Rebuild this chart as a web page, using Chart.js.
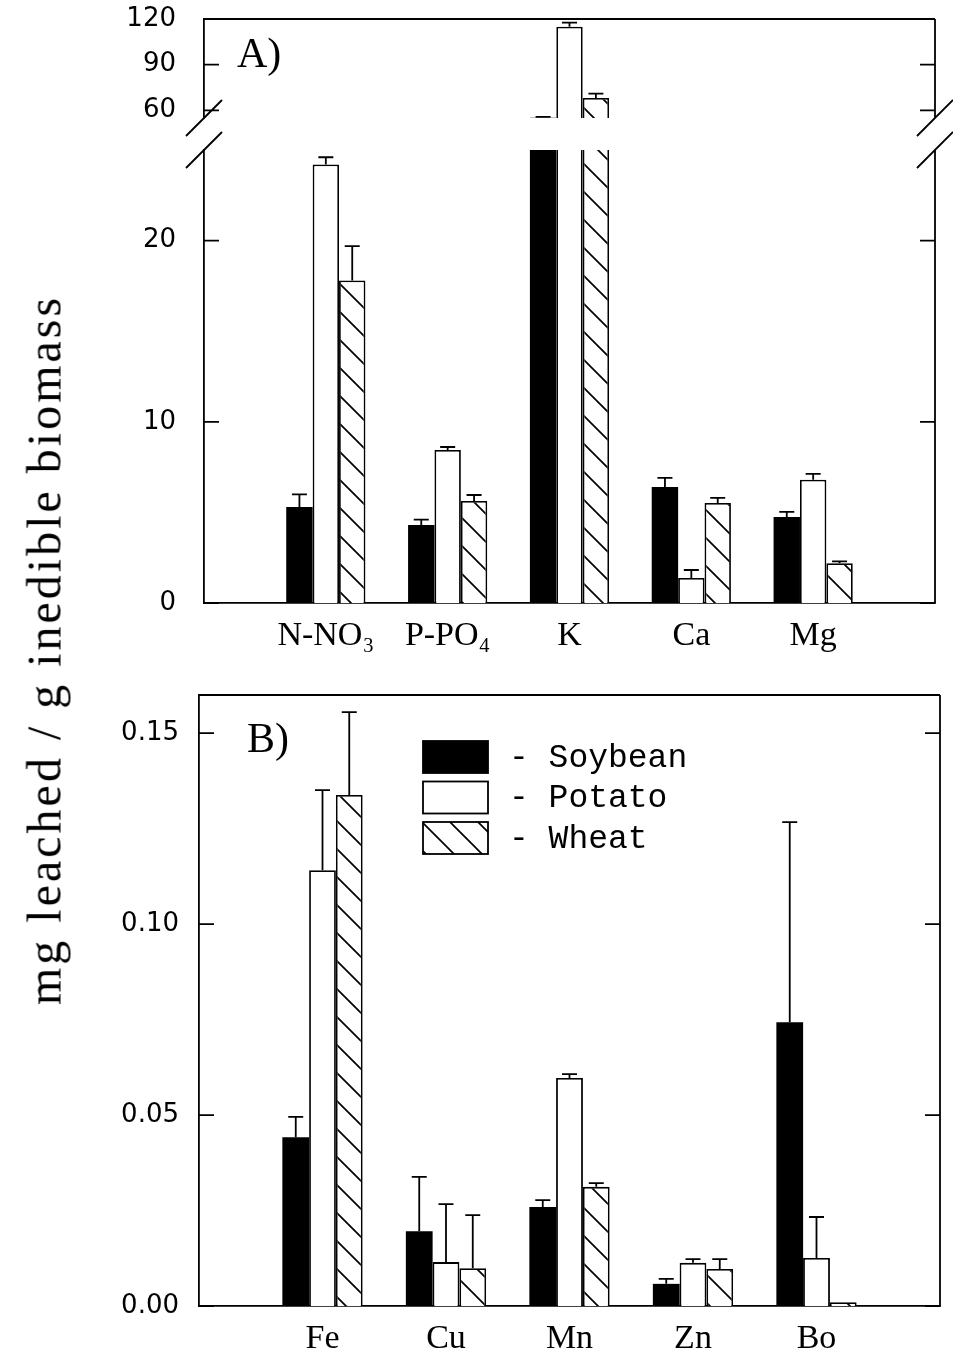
<!DOCTYPE html>
<html>
<head>
<meta charset="utf-8">
<script src="https://cdn.jsdelivr.net/npm/chart.js@4/dist/chart.umd.min.js"></script>
<style>
  body { margin: 0; background: #fff; }
  .panel { position: absolute; left: 0; width: 953px; height: 680px; }
  #ytitle {
    position: absolute; left: 44px; top: 650px;
    transform: translate(-50%, -50%) rotate(-90deg);
    font: 48px "Liberation Serif", serif; letter-spacing: 3px;
    white-space: nowrap; color: #000;
  }
</style>
</head>
<body>
<div class="panel" style="top:0"><canvas id="macro"></canvas></div>
<div class="panel" style="top:680px"><canvas id="micro"></canvas></div>
<div id="ytitle">mg leached / g inedible biomass</div>
<script>
// panel A: macronutrients (empty slots at both ends keep the groups on whole units)
const macroCats = ['', 'N-NO₃', 'P-PO₄', 'K', 'Ca', 'Mg', ''];
const soyMacro    = [null, 5.3, 4.3, 55.2, 6.4, 4.75, null];
const soyMacroErr = [null, 0.7, 0.3, 0.6, 0.5, 0.28, null];
const potMacro    = [null, 24.2, 8.44, 114.9, 1.38, 6.8, null];
const potMacroErr = [null, 0.4, 0.17, 2.7, 0.44, 0.33, null];
const whtMacro    = [null, 17.8, 5.63, 68.1, 5.52, 2.2, null];
const whtMacroErr = [null, 1.9, 0.33, 2.9, 0.28, 0.1, null];

// panel B: micronutrients
const microCats = ['', 'Fe', 'Cu', 'Mn', 'Zn', 'Bo', ''];
const soyMicro    = [null, 0.0442, 0.0196, 0.0259, 0.0058, 0.0743, null];
const soyMicroErr = [null, 0.0053, 0.0142, 0.0018, 0.0013, 0.0524, null];
const potMicro    = [null, 0.1141, 0.0115, 0.0597, 0.0113, 0.0126, null];
const potMicroErr = [null, 0.021, 0.0152, 0.001, 0.001, 0.0107, null];
const whtMicro    = [null, 0.1338, 0.0099, 0.0312, 0.0097, 0.001, null];
const whtMicroErr = [null, 0.0217, 0.0139, 0.001, 0.0026, 0, null];

const lowTicks = [0, 10, 20];
const highTicks = [60, 90, 120];
const microTicks = [0, 0.05, 0.10, 0.15];
const lowRange = [0, 25];
const highRange = [55, 120];
const microRange = [0, 0.16];

Chart.defaults.color = '#000';
Chart.defaults.font.family = '"DejaVu Sans"';

function hatch(canvas) {
  const c = document.createElement('canvas');
  c.width = c.height = 28;
  const g = c.getContext('2d');
  g.fillStyle = '#fff';
  g.fillRect(0, 0, 28, 28);
  g.strokeStyle = '#000';
  g.lineWidth = 1.7;
  g.beginPath();
  g.moveTo(-2, -2); g.lineTo(30, 30);
  g.moveTo(-2, 26); g.lineTo(2, 30);
  g.moveTo(26, -2); g.lineTo(30, 2);
  g.stroke();
  return canvas.getContext('2d').createPattern(c, 'repeat');
}

function series(label, fill, border, data, errors, yAxisID) {
  return {label, data, errors, yAxisID, stack: label,
    backgroundColor: fill, borderColor: '#000', borderWidth: border};
}

// clips each dataset to its own y segment, draws error bars, frame, inward ticks, breaks, legend
const framePlugin = {
  id: 'frame',
  beforeDatasetDraw(chart, args) {
    const s = chart.scales[args.meta.yAxisID];
    const a = chart.chartArea;
    chart.ctx.save();
    chart.ctx.beginPath();
    chart.ctx.rect(a.left - 5, s.top, a.right - a.left + 10, s.bottom - s.top + 2);
    chart.ctx.clip();
  },
  afterDatasetDraw(chart, args) {
    const ctx = chart.ctx;
    const ds = chart.data.datasets[args.index];
    const s = chart.scales[args.meta.yAxisID];
    ctx.strokeStyle = '#000';
    ctx.lineWidth = 1.8;
    args.meta.data.forEach((bar, i) => {
      const v = ds.data[i], e = ds.errors[i];
      if (v == null || !e) return;
      const yTop = s.getPixelForValue(v + e);
      ctx.beginPath();
      ctx.moveTo(bar.x, bar.y);
      ctx.lineTo(bar.x, yTop);
      ctx.moveTo(bar.x - 7.5, yTop);
      ctx.lineTo(bar.x + 7.5, yTop);
      ctx.stroke();
    });
    ctx.restore();
  },
  afterDraw(chart, args, opts) {
    const {ctx, chartArea: a} = chart;
    ctx.save();
    ctx.strokeStyle = '#000';
    ctx.lineWidth = 1.8;
    ctx.beginPath();
    ctx.moveTo(a.left, a.top);
    ctx.lineTo(a.right, a.top);
    opts.axes.forEach(id => {
      const s = chart.scales[id];
      ctx.moveTo(a.right, s.top);
      ctx.lineTo(a.right, s.bottom);
      s.ticks.forEach(t => {
        const y = s.getPixelForValue(t.value);
        ctx.moveTo(a.left, y); ctx.lineTo(a.left + 15, y);
        ctx.moveTo(a.right - 15, y); ctx.lineTo(a.right, y);
      });
    });
    if (opts.brk) {
      const ys = [chart.scales[opts.brk[0]].bottom, chart.scales[opts.brk[1]].top];
      [a.left, a.right].forEach(x => ys.forEach(y => {
        ctx.moveTo(x - 18, y + 18);
        ctx.lineTo(x + 18, y - 18);
      }));
    }
    ctx.stroke();

    ctx.fillStyle = '#000';
    ctx.textBaseline = 'middle';
    ctx.font = '42px "Liberation Serif"';
    ctx.fillText(opts.tag.text, a.left + opts.tag.dx, a.top + opts.tag.dy);

    if (opts.legend) {
      ctx.font = '33px "Liberation Mono"';
      chart.data.datasets.forEach((ds, i) => {
        const x = a.left + opts.legend.dx;
        const y = a.top + opts.legend.dy + i * 40.5;
        ctx.fillStyle = ds.backgroundColor;
        ctx.fillRect(x, y, 65, 32);
        ctx.strokeRect(x, y, 65, 32);
        ctx.fillStyle = '#000';
        ctx.fillText('- ' + ds.label, x + 86, y + 17);
      });
    }
    ctx.restore();
  }
};

const tickFont = {family: '"DejaVu Sans"', size: 26};
const catFont = {family: '"Liberation Serif"', size: 34};

function yAxis(range, ticks, width, pad, fmt, extra) {
  return Object.assign({
    type: 'linear', position: 'left', min: range[0], max: range[1], stacked: false,
    afterBuildTicks: s => { s.ticks = ticks.map(value => ({value})); },
    afterFit: s => { s.width = width; s.paddingTop = 0; s.paddingBottom = 0; },
    grid: {display: false, drawTicks: false},
    border: {display: true, color: '#000', width: 1.8},
    ticks: {font: tickFont, padding: pad, autoSkip: false, callback: fmt}
  }, extra);
}

function xAxis(labels, height) {
  return {
    type: 'category', labels, offset: false,
    afterFit: s => { s.height = height; },
    grid: {display: false, drawTicks: false},
    border: {display: true, color: '#000', width: 1.8},
    ticks: {font: catFont, padding: 13, maxRotation: 0, autoSkip: false}
  };
}

const macroCanvas = document.getElementById('macro');
const macroHatch = hatch(macroCanvas);
const high = v => v > lowRange[1] ? v : null;

new Chart(macroCanvas, {
  type: 'bar',
  plugins: [framePlugin],
  data: {
    labels: macroCats,
    datasets: [
      series('Soybean', '#000', 0, soyMacro, soyMacroErr, 'y'),
      series('Potato', '#fff', 1.8, potMacro, potMacroErr, 'y'),
      series('Wheat', macroHatch, 1.8, whtMacro, whtMacroErr, 'y'),
      series('Soybean', '#000', 0, soyMacro.map(high), soyMacroErr, 'up'),
      series('Potato', '#fff', 1.8, potMacro.map(high), potMacroErr, 'up'),
      series('Wheat', macroHatch, 1.8, whtMacro.map(high), whtMacroErr, 'up')
    ]
  },
  options: {
    responsive: true,
    maintainAspectRatio: false,
    animation: false,
    events: [],
    layout: {padding: {left: 0, right: 18, top: 19, bottom: 0}},
    datasets: {bar: {categoryPercentage: 0.65, barPercentage: 1}},
    scales: {
      x: xAxis(macroCats, 77),
      y: yAxis(lowRange, lowTicks, 204, 28, v => String(v), {stack: 'a', stackWeight: 453}),
      gap: {type: 'linear', position: 'left', display: false, stack: 'a', stackWeight: 32,
        afterFit: s => { s.width = 204; }},
      up: yAxis(highRange, highTicks, 204, 28, v => String(v), {stack: 'a', stackWeight: 99})
    },
    plugins: {
      legend: {display: false},
      tooltip: {enabled: false},
      frame: {axes: ['up', 'y'], brk: ['up', 'y'], tag: {text: 'A)', dx: 33, dy: 37}}
    }
  }
});

const microCanvas = document.getElementById('micro');
const microHatch = hatch(microCanvas);

new Chart(microCanvas, {
  type: 'bar',
  plugins: [framePlugin],
  data: {
    labels: microCats,
    datasets: [
      series('Soybean', '#000', 0, soyMicro, soyMicroErr, 'y'),
      series('Potato', '#fff', 1.8, potMicro, potMicroErr, 'y'),
      series('Wheat', microHatch, 1.8, whtMicro, whtMicroErr, 'y')
    ]
  },
  options: {
    responsive: true,
    maintainAspectRatio: false,
    animation: false,
    events: [],
    layout: {padding: {left: 0, right: 13, top: 15, bottom: 0}},
    datasets: {bar: {categoryPercentage: 0.65, barPercentage: 1}},
    scales: {
      x: xAxis(microCats, 54),
      y: yAxis(microRange, microTicks, 199, 20, v => v.toFixed(2))
    },
    plugins: {
      legend: {display: false},
      tooltip: {enabled: false},
      frame: {axes: ['y'], tag: {text: 'B)', dx: 48, dy: 46}, legend: {dx: 224, dy: 46}}
    }
  }
});
</script>
</body>
</html>
